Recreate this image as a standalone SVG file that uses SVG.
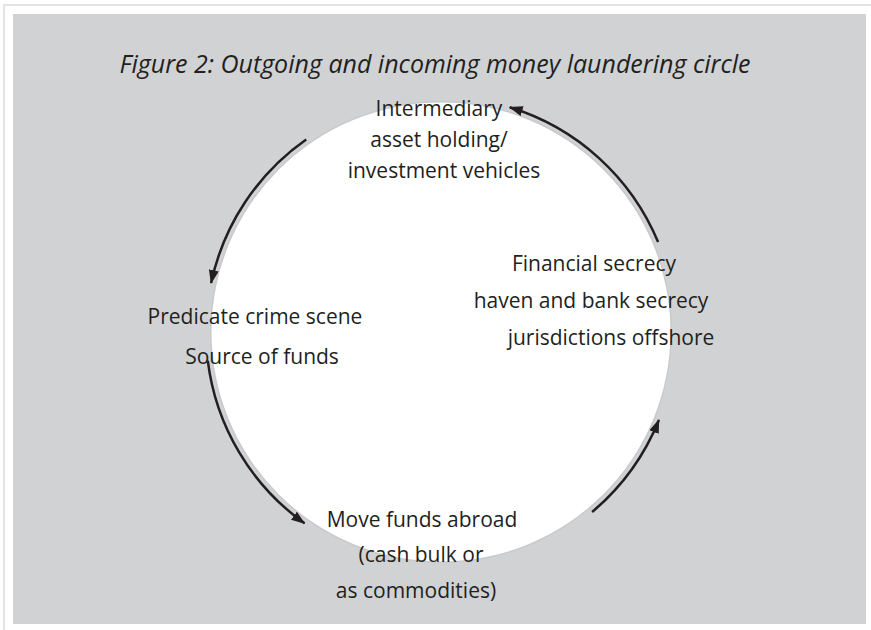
<svg xmlns="http://www.w3.org/2000/svg" width="871" height="630" viewBox="0 0 871 630">
  <style>
    .frame { stroke: #dcdcdc; stroke-width: 1.5; fill: none; }
    .label { font-family: "Open Sans", Lato, sans-serif; font-size: 21px; fill: #231f20; text-anchor: middle; }
    .title { font-family: "Open Sans", Lato, sans-serif; font-size: 25px; font-style: italic; fill: #231f20; text-anchor: middle; }
    .flow { stroke: #231f20; stroke-width: 2.5; fill: none; marker-end: url(#head); }
  </style>
  <defs>
    <marker id="head" viewBox="0 0 14 10" refX="13" refY="5" markerWidth="14" markerHeight="10" markerUnits="userSpaceOnUse" orient="auto">
      <path d="M0,0 L14,5 L0,10 Z" fill="#231f20"/>
    </marker>
  </defs>

  <!-- page frame -->
  <rect width="871" height="630" fill="#ffffff"/>
  <path class="frame" d="M4,630 V5 H871"/>

  <!-- grey panel -->
  <rect x="13" y="14" width="853" height="610" fill="#d1d2d4"/>

  <!-- central cycle disc with a soft rim -->
  <circle cx="441" cy="332" r="231" fill="#c9cacc"/>
  <circle cx="441" cy="332" r="229.5" fill="#ffffff"/>

  <text class="title" x="435" y="73">Figure 2: Outgoing and incoming money laundering circle</text>

  <g id="connectors">
    <path class="flow" d="M306.2,139.5 A235,235 0 0 0 211.1,283.1"/>
    <path class="flow" d="M207.8,360.6 A235,235 0 0 0 304.5,523.3"/>
    <path class="flow" d="M592.1,512.0 A235,235 0 0 0 658.9,420.0"/>
    <path class="flow" d="M658.1,242.1 A235,235 0 0 0 509.7,107.3"/>
  </g>

  <g id="intermediary">
    <text class="label" x="439" y="116">Intermediary</text>
    <text class="label" x="439" y="147">asset holding/</text>
    <text class="label" x="444" y="178">investment vehicles</text>
  </g>

  <g id="secrecy">
    <text class="label" x="594" y="271">Financial secrecy</text>
    <text class="label" x="591" y="308">haven and bank secrecy</text>
    <text class="label" x="611" y="345">jurisdictions offshore</text>
  </g>

  <g id="predicate">
    <text class="label" x="255" y="324">Predicate crime scene</text>
    <text class="label" x="262" y="364">Source of funds</text>
  </g>

  <g id="move">
    <text class="label" x="422" y="527">Move funds abroad</text>
    <text class="label" x="421" y="562">(cash bulk or</text>
    <text class="label" x="416" y="598">as commodities)</text>
  </g>
</svg>
